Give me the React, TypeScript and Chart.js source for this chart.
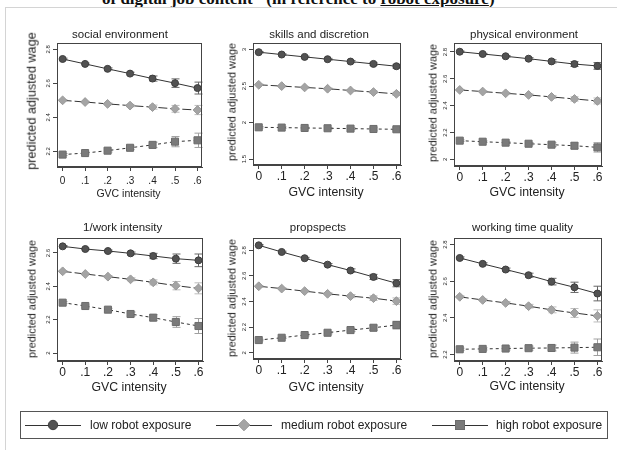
import React, { useEffect, useRef } from 'react';
import { Chart, registerables } from 'chart.js';

Chart.register(...registerables);
Chart.defaults.font.family = "'Liberation Sans', Arial, sans-serif";

// ---------------- data ----------------
const gvc = [0, 0.1, 0.2, 0.3, 0.4, 0.5, 0.6];
const xTickLabels = ['0', '.1', '.2', '.3', '.4', '.5', '.6'];
const seriesNames = ['low robot exposure', 'medium robot exposure', 'high robot exposure'];
const panelTitles = ['social environment', 'skills and discretion', 'physical environment', '1/work intensity', 'propspects', 'working time quality'];
const yAxisTitle = 'predicted adjusted wage';
const xAxisTitle = 'GVC intensity';
const headerText = 'of digital job content" (in reference to ';
const headerUnderlined = 'robot exposure';

const socialLow = [2.743, 2.714, 2.685, 2.657, 2.628, 2.601, 2.572];
const socialMed = [2.5, 2.49, 2.479, 2.469, 2.46, 2.45, 2.443];
const socialHigh = [2.181, 2.19, 2.204, 2.221, 2.238, 2.257, 2.265];
const socialLowCI = [0.005, 0.005, 0.006, 0.008, 0.015, 0.025, 0.035];
const socialMedCI = [0.004, 0.004, 0.005, 0.007, 0.012, 0.02, 0.027];
const socialHighCI = [0.006, 0.006, 0.008, 0.01, 0.016, 0.03, 0.042];

const skillsLow = [2.964, 2.932, 2.9, 2.868, 2.836, 2.804, 2.772];
const skillsMed = [2.518, 2.5, 2.482, 2.464, 2.44, 2.418, 2.394];
const skillsHigh = [1.936, 1.932, 1.927, 1.923, 1.918, 1.913, 1.909];
const skillsLowCI = [0.01, 0.01, 0.01, 0.012, 0.015, 0.02, 0.025];
const skillsMedCI = [0.008, 0.008, 0.009, 0.01, 0.013, 0.017, 0.022];
const skillsHighCI = [0.01, 0.01, 0.01, 0.011, 0.013, 0.017, 0.022];

const physLow = [2.802, 2.785, 2.768, 2.75, 2.73, 2.71, 2.696];
const physMed = [2.517, 2.505, 2.492, 2.48, 2.465, 2.45, 2.435];
const physHigh = [2.139, 2.131, 2.124, 2.116, 2.109, 2.101, 2.089];
const physLowCI = [0.005, 0.005, 0.006, 0.008, 0.012, 0.018, 0.025];
const physMedCI = [0.004, 0.004, 0.005, 0.007, 0.011, 0.016, 0.022];
const physHighCI = [0.006, 0.006, 0.007, 0.009, 0.014, 0.022, 0.035];

const workLow = [2.64, 2.624, 2.612, 2.598, 2.582, 2.566, 2.556];
const workMed = [2.49, 2.474, 2.458, 2.442, 2.424, 2.404, 2.388];
const workHigh = [2.302, 2.282, 2.26, 2.234, 2.212, 2.186, 2.162];
const workLowCI = [0.005, 0.005, 0.006, 0.008, 0.016, 0.028, 0.038];
const workMedCI = [0.004, 0.004, 0.006, 0.009, 0.015, 0.025, 0.033];
const workHighCI = [0.006, 0.006, 0.008, 0.012, 0.018, 0.032, 0.045];

const prospLow = [2.839, 2.787, 2.738, 2.688, 2.642, 2.592, 2.543];
const prospMed = [2.519, 2.501, 2.481, 2.46, 2.442, 2.426, 2.403];
const prospHigh = [2.099, 2.117, 2.138, 2.156, 2.177, 2.195, 2.216];
const prospLowCI = [0.006, 0.006, 0.007, 0.009, 0.013, 0.02, 0.028];
const prospMedCI = [0.005, 0.005, 0.006, 0.008, 0.012, 0.018, 0.025];
const prospHighCI = [0.006, 0.006, 0.007, 0.009, 0.012, 0.02, 0.03];

const wtqLow = [2.727, 2.695, 2.664, 2.633, 2.598, 2.567, 2.533];
const wtqMed = [2.515, 2.498, 2.482, 2.464, 2.444, 2.427, 2.411];
const wtqHigh = [2.229, 2.231, 2.233, 2.235, 2.236, 2.238, 2.24];
const wtqLowCI = [0.006, 0.006, 0.008, 0.011, 0.018, 0.028, 0.04];
const wtqMedCI = [0.005, 0.005, 0.007, 0.01, 0.016, 0.024, 0.033];
const wtqHighCI = [0.006, 0.006, 0.008, 0.011, 0.016, 0.03, 0.045];

const socialTicks = [2.2, 2.4, 2.6, 2.8];
const skillsTicks = [1.5, 2, 2.5, 3];
const physTicks = [2, 2.2, 2.4, 2.6, 2.8];
const workTicks = [2, 2.2, 2.4, 2.6];
const prospTicks = [2, 2.2, 2.4, 2.6, 2.8];
const wtqTicks = [2.2, 2.4, 2.6, 2.8];

const socialRange = [2.108, 2.837];
const skillsRange = [1.42, 3.09];
const physRange = [1.95, 2.867];
const workRange = [1.952, 2.69];
const prospRange = [1.951, 2.896];
const wtqRange = [2.165, 2.836];

const xRange = [-0.025, 0.62];

const fmtTick = (v: number) => String(v);

// ---------------- styles / layout ----------------
const FONT = "'Liberation Sans', Arial, sans-serif";
const LINE_COLOR = '#333333';
const FRAME_COLOR = '#444444';
const seriesStyle = [
  { pointStyle: 'circle', radius: 3.5, fill: '#525252', border: '#3e3e3e', dash: [] as number[], ci: '#666666' },
  { pointStyle: 'rectRot', radius: 4.4, fill: '#a4a4a4', border: '#999999', dash: [9, 3], ci: '#bbbbbb' },
  { pointStyle: 'rect', radius: 5, fill: '#7a7a7a', border: '#6c6c6c', dash: [3, 3], ci: '#a0a0a0' },
];

const panels = [
  { title: panelTitles[0], series: [socialLow, socialMed, socialHigh], ci: [socialLowCI, socialMedCI, socialHighCI], ticks: socialTicks, range: socialRange,
    box: { l: 57, t: 43, r: 202, b: 167 }, titleX: 120, titleY: 35, yTitleX: 32, yTitleY: 101, yTitleSize: 12.7, xTitleY: 193.3, xTickSize: 10, xTitleSize: 10.5, xTickPad: 4 },
  { title: panelTitles[1], series: [skillsLow, skillsMed, skillsHigh], ci: [skillsLowCI, skillsMedCI, skillsHighCI], ticks: skillsTicks, range: skillsRange,
    box: { l: 253, t: 43, r: 401, b: 165 }, titleX: 319, titleY: 35, yTitleX: 232, yTitleY: 102, yTitleSize: 10.9, xTitleY: 191.7, xTickSize: 12, xTitleSize: 12.3, xTickPad: 0 },
  { title: panelTitles[2], series: [physLow, physMed, physHigh], ci: [physLowCI, physMedCI, physHighCI], ticks: physTicks, range: physRange,
    box: { l: 454, t: 43, r: 602, b: 166 }, titleX: 524, titleY: 35, yTitleX: 433, yTitleY: 103, yTitleSize: 10.9, xTitleY: 191.7, xTickSize: 12, xTitleSize: 12.3, xTickPad: 0 },
  { title: panelTitles[3], series: [workLow, workMed, workHigh], ci: [workLowCI, workMedCI, workHighCI], ticks: workTicks, range: workRange,
    box: { l: 57, t: 238, r: 203, b: 361 }, titleX: 122.7, titleY: 228.3, yTitleX: 32, yTitleY: 299, yTitleSize: 10.9, xTitleY: 386.7, xTickSize: 12, xTitleSize: 12.3, xTickPad: 0 },
  { title: panelTitles[4], series: [prospLow, prospMed, prospHigh], ci: [prospLowCI, prospMedCI, prospHighCI], ticks: prospTicks, range: prospRange,
    box: { l: 253, t: 238, r: 401, b: 359 }, titleX: 318, titleY: 228.3, yTitleX: 232, yTitleY: 298, yTitleSize: 10.9, xTitleY: 386.7, xTickSize: 12, xTitleSize: 12.3, xTickPad: 0 },
  { title: panelTitles[5], series: [wtqLow, wtqMed, wtqHigh], ci: [wtqLowCI, wtqMedCI, wtqHighCI], ticks: wtqTicks, range: wtqRange,
    box: { l: 454, t: 238, r: 602, b: 361 }, titleX: 522.5, titleY: 228.3, yTitleX: 433, yTitleY: 299, yTitleSize: 10.9, xTitleY: 385.7, xTickSize: 12, xTitleSize: 12.3, xTickPad: 0 },
];

const YW = 40;
const PADT = 6;
const PADR = 8;
const XH = 30;

const framePlugin = {
  id: 'frameBox',
  afterDraw(chart: any) {
    const { ctx, chartArea } = chart;
    ctx.save();
    ctx.strokeStyle = FRAME_COLOR;
    ctx.lineWidth = 1;
    ctx.strokeRect(Math.round(chartArea.left) + 0.5, Math.round(chartArea.top) + 0.5,
      Math.round(chartArea.right - chartArea.left) - 1, Math.round(chartArea.bottom - chartArea.top) - 1);
    ctx.restore();
  },
};

const errorBarPlugin = {
  id: 'ciBars',
  beforeDatasetsDraw(chart: any) {
    const { ctx } = chart;
    const xs = chart.scales.x;
    const ys = chart.scales.y;
    chart.data.datasets.forEach((ds: any) => {
      const ci: number[] = ds.ciHalf;
      ctx.save();
      ctx.strokeStyle = ds.ciColor;
      ctx.lineWidth = 1;
      ctx.beginPath();
      ds.data.forEach((pt: any, i: number) => {
        const x = Math.round(xs.getPixelForValue(pt.x)) + 0.5;
        const y1 = ys.getPixelForValue(pt.y - ci[i]);
        const y2 = ys.getPixelForValue(pt.y + ci[i]);
        ctx.moveTo(x, y1); ctx.lineTo(x, y2);
        ctx.moveTo(x - 4, y1); ctx.lineTo(x + 4, y1);
        ctx.moveTo(x - 4, y2); ctx.lineTo(x + 4, y2);
      });
      ctx.stroke();
      ctx.restore();
    });
  },
};

function Panel({ p }: { p: any }) {
  const ref = useRef<HTMLCanvasElement | null>(null);
  const w = p.box.r - p.box.l + YW + PADR;
  const h = p.box.b - p.box.t + PADT + XH;
  useEffect(() => {
    if (!ref.current) return;
    const datasets = p.series.map((vals: number[], si: number) => {
      const st = seriesStyle[si];
      return {
        label: seriesNames[si],
        data: gvc.map((x, i) => ({ x, y: vals[i] })),
        ciHalf: p.ci[si],
        ciColor: st.ci,
        borderColor: LINE_COLOR,
        borderWidth: 1,
        borderDash: st.dash,
        fill: false,
        tension: 0,
        pointStyle: st.pointStyle,
        pointRadius: st.radius,
        pointBackgroundColor: st.fill,
        pointBorderColor: st.border,
        pointBorderWidth: 1,
      };
    });
    const chart = new Chart(ref.current, {
      type: 'line',
      data: { datasets },
      options: {
        animation: false,
        responsive: false,
        maintainAspectRatio: false,
        events: [],
        layout: { padding: { left: 0, top: PADT, right: PADR, bottom: 0 } },
        plugins: { legend: { display: false }, tooltip: { enabled: false }, title: { display: false } },
        scales: {
          x: {
            type: 'linear',
            min: xRange[0],
            max: xRange[1],
            afterBuildTicks: (s: any) => { s.ticks = gvc.map((v) => ({ value: v })); },
            afterFit: (s: any) => { s.height = XH; },
            ticks: {
              autoSkip: false, maxRotation: 0, minRotation: 0,
              padding: p.xTickPad,
              color: '#222',
              font: { size: p.xTickSize, family: FONT },
              callback: (_v: any, i: number) => xTickLabels[i],
            },
            grid: { drawOnChartArea: false, drawTicks: true, tickLength: 4, color: FRAME_COLOR },
            border: { display: true, color: FRAME_COLOR },
          },
          y: {
            type: 'linear',
            min: p.range[0],
            max: p.range[1],
            afterBuildTicks: (s: any) => { s.ticks = p.ticks.map((v: number) => ({ value: v })); },
            afterFit: (s: any) => { s.width = YW; },
            ticks: {
              autoSkip: false, minRotation: 90, maxRotation: 90, crossAlign: 'center',
              padding: 0,
              color: '#222',
              font: { size: 6, family: FONT },
              callback: (v: any) => fmtTick(v),
            },
            grid: { drawOnChartArea: false, drawTicks: true, tickLength: 4, color: FRAME_COLOR },
            border: { display: true, color: FRAME_COLOR },
          },
        },
      } as any,
      plugins: [errorBarPlugin, framePlugin],
    });
    return () => chart.destroy();
  }, []);

  const textBase: React.CSSProperties = {
    position: 'absolute', whiteSpace: 'nowrap', lineHeight: 1, color: '#222', fontFamily: FONT,
  };
  const bx = (p.box.l + p.box.r) / 2 - 1;
  return (
    <>
      <canvas ref={ref} width={w} height={h}
        style={{ position: 'absolute', left: p.box.l - YW, top: p.box.t - PADT, width: w, height: h }} />
      <div style={{ ...textBase, left: p.titleX, top: p.titleY, fontSize: 11.5, transform: 'translate(-50%,-50%)' }}>{p.title}</div>
      <div style={{ ...textBase, left: p.yTitleX, top: p.yTitleY, fontSize: p.yTitleSize, transform: 'translate(-50%,-50%) rotate(-90deg)' }}>{yAxisTitle}</div>
      <div style={{ ...textBase, left: bx, top: p.xTitleY, fontSize: p.xTitleSize, transform: 'translate(-50%,-50%)' }}>{xAxisTitle}</div>
    </>
  );
}

function LegendItem({ si, lineL, textL }: { si: number; lineL: number; textL: number }) {
  const st = seriesStyle[si];
  const cy = 425;
  const cx = lineL + 28;
  let marker: React.ReactNode;
  if (si === 0) marker = <circle cx={28} cy={8} r={4.7} fill={st.fill} stroke={st.border} strokeWidth={1} />;
  else if (si === 1) marker = <polygon points="28,2.2 33.8,8 28,13.8 22.2,8" fill={st.fill} stroke={st.border} strokeWidth={1} />;
  else marker = <rect x={23.5} y={3.5} width={9} height={9} fill={st.fill} stroke={st.border} strokeWidth={1} />;
  return (
    <>
      <svg width={56} height={16} style={{ position: 'absolute', left: lineL, top: cy - 8 }}>
        <line x1={0} y1={8.5} x2={56} y2={8.5} stroke={LINE_COLOR} strokeWidth={1} />
        {marker}
      </svg>
      <div style={{ position: 'absolute', left: textL, top: cy, transform: 'translateY(-50%)', fontFamily: FONT, fontSize: 12, lineHeight: 1, whiteSpace: 'nowrap', color: '#222' }}>{seriesNames[si]}</div>
    </>
  );
}

export default function App() {
  return (
    <div style={{ position: 'absolute', left: 0, top: 0, width: 617, height: 450, background: '#fff', overflow: 'hidden' }}>
      <div style={{ position: 'absolute', left: 102, top: -10.2, fontFamily: "'Liberation Serif', 'Times New Roman', serif", fontWeight: 'bold', fontSize: 17, lineHeight: '17px', whiteSpace: 'nowrap', color: '#111' }}>
        {headerText}<u>{headerUnderlined}</u>)
      </div>
      <div style={{ position: 'absolute', left: 5, top: 7, width: 700, height: 600, borderLeft: '1px solid #d4d4d4', borderTop: '1px solid #d4d4d4' }} />
      {panels.map((p, i) => <Panel key={i} p={p} />)}
      <div style={{ position: 'absolute', left: 19.5, top: 410.5, width: 588, height: 28, border: '1px solid #555', boxSizing: 'border-box' }} />
      <LegendItem si={0} lineL={25} textL={90} />
      <LegendItem si={1} lineL={216} textL={281} />
      <LegendItem si={2} lineL={432} textL={496} />
    </div>
  );
}
